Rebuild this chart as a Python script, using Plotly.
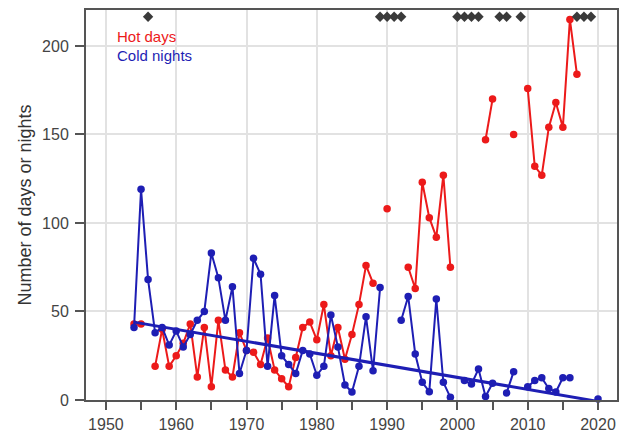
import plotly.graph_objects as go

# Annual counts, 1954-2020 (None = no record for that year)
years = list(range(1954, 2021))

hot_days = [
    43, 43, None, 19, 40, 19, 25, 32, 43, 13,        # 1954-1963
    41, 7.5, 45, 17, 13, 38, 28, 27, 20, 35,         # 1964-1973
    17, 12, 7.5, 24, 41, 44, 34, 54, 25, 41,         # 1974-1983
    23, 37, 54, 76, 66, None, 108, None, None, 75,   # 1984-1993
    63, 123, 103, 92, 127, 75, None, None, None, None,  # 1994-2003
    147, 170, None, None, 150, None, 176, 132, 127, 154,  # 2004-2013
    168, 154, 215, 184, None, None, None,            # 2014-2020
]

cold_nights = [
    41, 119, 68, 38, 41, 31, 39, 30, 37, 45,         # 1954-1963
    50, 83, 69, 45, 64, 15, 28, 80, 71, 19,          # 1964-1973
    59, 25, 20, 15, 28, 26, 14, 19, 48, 30,          # 1974-1983
    8.5, 4.5, 19, 47, 16.5, 63.5, None, None, 45, 58.5,  # 1984-1993
    26, 10, 4.7, 57, 10, 1.5, None, 11, 9, 17.5,     # 1994-2003
    2, 9.5, None, 4, 16, None, 7.5, 11, 12.5, 6.5,   # 2004-2013
    4.5, 12.5, 12.5, None, None, None, 0.5,          # 2014-2020
]

# Linear trend of cold nights
trend_years = [1954, 2020]
trend_values = [44, -0.8]

# Years flagged along the top of the panel
flag_years = [1956, 1989, 1990, 1991, 1992, 2000, 2001, 2002, 2003,
              2006, 2007, 2009, 2017, 2018, 2019]
flag_level = 216.5

RED = "#ec1a1a"
BLUE = "#1e1eb4"
FONT = "Liberation Sans, Arial, Helvetica, sans-serif"

fig = go.Figure()

fig.add_trace(go.Scatter(
    x=years, y=hot_days, mode="lines+markers", name="Hot days",
    line=dict(color=RED, width=2), marker=dict(color=RED, size=7.5),
    cliponaxis=False,
))
fig.add_trace(go.Scatter(
    x=years, y=cold_nights, mode="lines+markers", name="Cold nights",
    line=dict(color=BLUE, width=2), marker=dict(color=BLUE, size=7.5),
    cliponaxis=False,
))
fig.add_trace(go.Scatter(
    x=trend_years, y=trend_values, mode="lines",
    line=dict(color=BLUE, width=3), hoverinfo="skip",
))
fig.add_trace(go.Scatter(
    x=flag_years, y=[flag_level] * len(flag_years), mode="markers",
    marker=dict(symbol="diamond", color="#3a3a3a", size=8),
    cliponaxis=False,
))

fig.add_annotation(text="Hot days", xref="paper", yref="paper",
                   x=0.054, y=0.931, xanchor="left", yanchor="middle",
                   showarrow=False, font=dict(family=FONT, size=15, color=RED))
fig.add_annotation(text="Cold nights", xref="paper", yref="paper",
                   x=0.054, y=0.883, xanchor="left", yanchor="middle",
                   showarrow=False, font=dict(family=FONT, size=15, color=BLUE))

fig.update_layout(
    width=622, height=434,
    margin=dict(l=86, r=5, t=10, b=34),
    paper_bgcolor="white", plot_bgcolor="white",
    showlegend=False,
    font=dict(family=FONT, size=16, color="#444444"),
)

fig.update_xaxes(
    range=[1947.17, 2022.7],
    automargin=False,
    tickmode="linear", tick0=1950, dtick=10,
    ticks="outside", ticklen=8, tickwidth=1.5, tickcolor="#555555",
    ticklabelstandoff=1,
    showgrid=True, gridcolor="#e2e2e2", gridwidth=1.5,
    minor=dict(tickmode="linear", tick0=1955, dtick=5, ticks="outside",
               ticklen=8, tickwidth=1.5, tickcolor="#555555", showgrid=False),
    showline=True, linecolor="#555555", linewidth=2, mirror=True,
    zeroline=False,
)
fig.update_yaxes(
    range=[0, 220.3],
    automargin=False,
    tickmode="linear", tick0=0, dtick=50,
    ticks="outside", ticklen=9, tickwidth=1.5, tickcolor="#555555",
    ticklabelstandoff=3,
    showgrid=True, gridcolor="#e2e2e2", gridwidth=1.5,
    showline=True, linecolor="#555555", linewidth=2, mirror=True,
    zeroline=False,
    title=dict(text="Number of days or nights", standoff=6,
               font=dict(family=FONT, size=18, color="#333333")),
)

fig.write_html("out.html")
